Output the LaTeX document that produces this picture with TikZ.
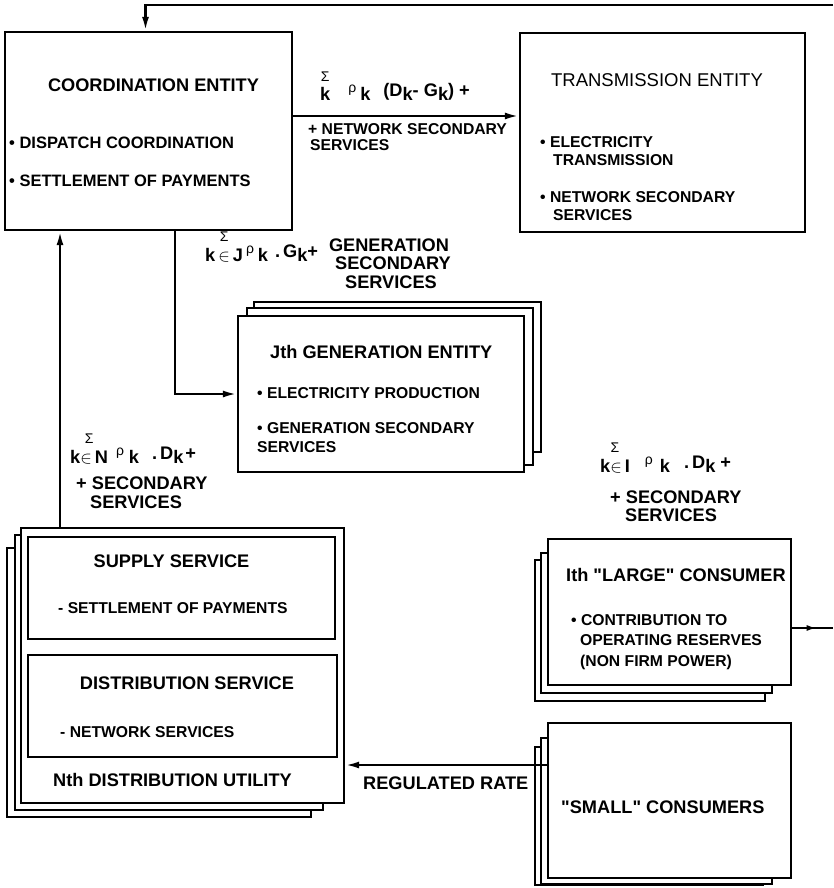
\documentclass[tikz,border=0pt]{standalone}
\usepackage{fontspec}
\setmainfont{Liberation Sans}[Ligatures=TeXOff]
\usepackage{tikz}
\usetikzlibrary{arrows.meta,decorations.markings}
\newcommand{\rh}{\raisebox{4pt}{\mdseries\fontsize{14}{14}\selectfont ρ}}
\newcommand{\lo}[1]{\lower4pt\hbox{#1}}
\newcommand{\sumst}[1]{\shortstack{\mdseries\fontsize{14}{14}\selectfont Σ\\[3pt]#1}}
\newcommand{\elt}{\,\(\in\)\,}

\begin{document}
\begin{tikzpicture}[x=1pt,y=-1pt,
  blk/.style n args={2}{draw,fill=white,line width=2.4pt,inner sep=0pt,minimum width=#1,minimum height=#2},
  arr/.style={line width=2.4pt,-{Latex[length=14pt,width=7pt]}},
  ttl/.style={inner sep=0pt,font=\fontsize{18.2}{20}\selectfont\bfseries},
  txt/.style={inner sep=0pt,anchor=base west,font=\fontsize{15.7}{18}\selectfont\bfseries}]
\useasboundingbox (0,0) rectangle (833,888);

% entities
\node[blk={287}{198}] (coord) at (148.5,131) {};
\node[blk={285}{199}] (trans) at (662.5,132.5) {};
\foreach \n/\x/\y/\w/\h in {3/397.5/377/287/150,2/390/386.5/286/157}
  \node[blk={\w}{\h}] (gen\n) at (\x,\y) {};
\node[blk={286}{156}] (gen) at (381,394) {};
\foreach \n/\x/\y/\w/\h in {3/159/682.5/304/269,2/169/672.5/308/275}
  \node[blk={\w}{\h}] (dist\n) at (\x,\y) {};
\node[blk={323}{275}] (dist) at (182.5,665.5) {};
\node[blk={307}{102}] (supply) at (181.5,588) {};
\node[blk={309}{102}] (distserv) at (182.5,706) {};
\foreach \n/\x/\y/\w/\h in {3/650/630.5/230/141,2/656.5/623/231/140}
  \node[blk={\w}{\h}] (large\n) at (\x,\y) {};
\node[blk={243}{146}] (large) at (669.5,612) {};
\foreach \n/\x/\y/\w/\h in {3/649/816/228/138,2/656.5/811/231/146}
  \node[blk={\w}{\h}] (small\n) at (\x,\y) {};
\node[blk={243}{155}] (small) at (669.5,800.5) {};

% flows
\coordinate (topR) at (833,5);
\draw[arr] (topR) -| ([xshift=-3pt]coord.north);
\coordinate (c2t) at ([yshift=15pt]coord.east);
\draw[arr] (c2t) -- (c2t -| trans.west);
\draw[arr] ([xshift=26.5pt]coord.south) |- (gen.west);
\coordinate (up0) at ([xshift=-122.5pt]dist.north);
\draw[arr] (up0) -- (up0 |- coord.south);
\coordinate (rr) at ([yshift=35.5pt]small.west);
\draw[arr] (rr) -- (rr -| dist.east);
\coordinate (lgout) at ([yshift=-16pt]large.east);
\coordinate (rightR) at (833,628);
\draw[line width=2.4pt,postaction={decorate},decoration={markings,
  mark=at position 0.6 with {\arrow{Latex[length=10pt,width=6pt]}}}] (lgout) -- (rightR);

% coordination
\node[ttl,anchor=base] (coordT) at (153.5,91.5) {COORDINATION ENTITY};
\node[txt,font=\fontsize{16.5}{18}\selectfont\bfseries] (coordA) at (9,148.5) {• DISPATCH COORDINATION};
\node[txt,font=\fontsize{16.5}{18}\selectfont\bfseries] (coordB) at (9,186) {• SETTLEMENT OF PAYMENTS};

% transmission
\node[ttl,anchor=base,font=\fontsize{18.5}{20}\selectfont\mdseries] (transT) at (657,86.5) {TRANSMISSION ENTITY};
\node[txt] (transA) at (540,147.6) {• ELECTRICITY};
\node[txt] (transB) at (553,165.6) {TRANSMISSION};
\node[txt] (transC) at (540,202.6) {• NETWORK SECONDARY};
\node[txt] (transD) at (553,220.6) {SERVICES};
\node[ttl,anchor=base west] (c2tF) at (320,97) {\lo{\sumst{k}}\hspace{18pt}\rh\hspace{4pt}\lo{k}\hspace{13pt}(D\lo{k}- G\lo{k}) +};
\node[txt] (c2tA) at (308,134.6) {+ NETWORK SECONDARY};
\node[txt] (c2tB) at (310,150.6) {SERVICES};

% generation
\node[ttl,anchor=base west] (c2gF) at (205,257) {\lo{\sumst{k\elt J}}\hspace{3pt}\rh\hspace{4pt}\lo{k}\hspace{7pt}.\,G\lo{k}+};
\node[ttl,anchor=base] (c2gA) at (389,251) {GENERATION};
\node[ttl,anchor=base] (c2gB) at (393,269.5) {SECONDARY};
\node[ttl,anchor=base] (c2gC) at (391,288.5) {SERVICES};
\node[ttl,anchor=base west] (genT) at (270,358.5) {Jth GENERATION ENTITY};
\node[txt] (genA) at (257,398.6) {• ELECTRICITY PRODUCTION};
\node[txt] (genB) at (257,433.6) {• GENERATION SECONDARY};
\node[txt] (genC) at (257,452.6) {SERVICES};

% distribution
\node[ttl,anchor=base west] (d2cF) at (70,459) {\lo{\sumst{k\(\in\)\,N}}\hspace{8pt}\rh\hspace{5pt}\lo{k}\hspace{13pt}.\,D\lo{k}\hspace{2pt}+};
\node[ttl,anchor=base west] (d2cA) at (76,489.5) {+ SECONDARY};
\node[ttl,anchor=base west] (d2cB) at (90,508.5) {SERVICES};
\node[ttl,anchor=base] (supT) at (171.5,567.5) {SUPPLY SERVICE};
\node[txt] (supA) at (58,613.6) {- SETTLEMENT OF PAYMENTS};
\node[ttl,anchor=base] (dsT) at (187,689.5) {DISTRIBUTION SERVICE};
\node[txt] (dsA) at (60,737.6) {- NETWORK SERVICES};
\node[ttl,anchor=base west] (distT) at (53,786.5) {Nth DISTRIBUTION UTILITY};
\node[ttl,anchor=base west] (rrT) at (363,789.5) {REGULATED RATE};

% consumers
\node[ttl,anchor=base west] (i2cF) at (600,468) {\lo{\sumst{k\(\in\)\,I}}\hspace{15pt}\rh\hspace{7pt}\lo{k}\hspace{14pt}.\,D\lo{k}\hspace{5pt}+};
\node[ttl,anchor=base west] (i2cA) at (610,503.5) {+ SECONDARY};
\node[ttl,anchor=base west] (i2cB) at (625,521.5) {SERVICES};
\node[ttl,anchor=base west] (lgT) at (566,581.5) {Ith "LARGE" CONSUMER};
\node[txt] (lgA) at (571,625.6) {• CONTRIBUTION TO};
\node[txt] (lgB) at (580,645.6) {OPERATING RESERVES};
\node[txt] (lgC) at (580,666.6) {(NON FIRM POWER)};
\node[ttl,anchor=base west] (smT) at (561,813.5) {"SMALL" CONSUMERS};
\end{tikzpicture}
\end{document}
